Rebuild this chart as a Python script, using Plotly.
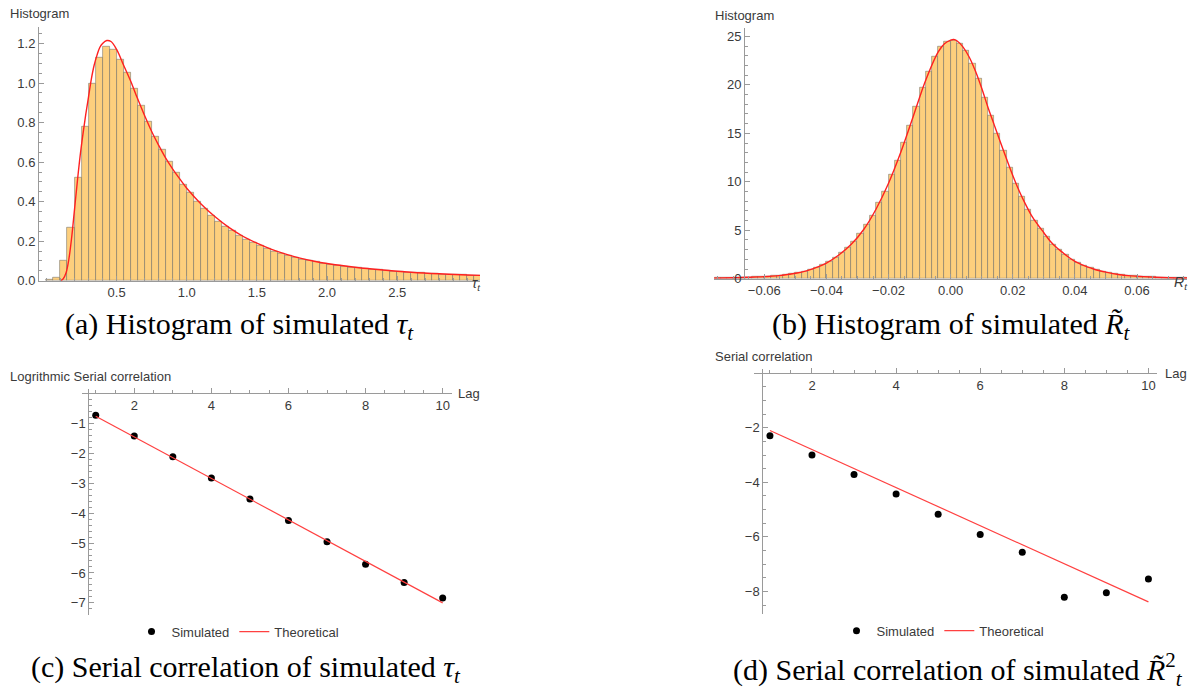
import plotly.graph_objects as go

# ---------------- data ----------------
# (a) histogram of simulated tau_t  (bin width 0.05, left edges)
tau_bin_w = 0.05
tau_edges = [round(0.05 * i, 2) for i in range(62)]
tau_heights = [0.003, 0.013, 0.10, 0.27, 0.52, 0.78, 0.997, 1.13, 1.185, 1.17,
               1.12, 1.053, 0.972, 0.887, 0.804, 0.731, 0.665, 0.60, 0.546, 0.488,
               0.445, 0.40, 0.362, 0.329, 0.301, 0.275, 0.252, 0.23, 0.21, 0.194,
               0.177, 0.164, 0.149, 0.139, 0.128, 0.118, 0.109, 0.103, 0.094, 0.088,
               0.082, 0.077, 0.072, 0.068, 0.064, 0.060, 0.057, 0.054, 0.051, 0.048,
               0.045, 0.043, 0.041, 0.039, 0.037, 0.035, 0.033, 0.032, 0.030, 0.029,
               0.028, 0.027]
tau_curve_x = [0.10, 0.12, 0.14, 0.16, 0.18, 0.20, 0.22, 0.24, 0.26, 0.28, 0.30, 0.32,
               0.34, 0.36, 0.38, 0.40, 0.43, 0.46, 0.50, 0.55, 0.60, 0.65, 0.70, 0.75,
               0.80, 0.85, 0.90, 0.95, 1.00, 1.10, 1.20, 1.30, 1.40, 1.50, 1.60, 1.70,
               1.80, 1.90, 2.00, 2.20, 2.40, 2.60, 2.80, 3.00, 3.09]
tau_curve_y = [0.0, 0.01, 0.04, 0.11, 0.22, 0.36, 0.50, 0.63, 0.74, 0.84, 0.93, 1.02,
               1.09, 1.14, 1.18, 1.20, 1.215, 1.21, 1.17, 1.09, 1.01, 0.92, 0.835, 0.755,
               0.685, 0.62, 0.565, 0.515, 0.468, 0.39, 0.325, 0.27, 0.225, 0.19, 0.16, 0.136,
               0.116, 0.10, 0.087, 0.068, 0.054, 0.043, 0.035, 0.029, 0.027]
tau_ticks = [0.5, 1.0, 1.5, 2.0, 2.5]
tau_yticks = [0.0, 0.2, 0.4, 0.6, 0.8, 1.0, 1.2]

# (b) histogram of simulated R_t (bin width 0.002, left edges)
r_bin_w = 0.002
r_edges = [round(-0.076 + 0.002 * i, 3) for i in range(76)]
r_heights = [0.07, 0.08, 0.09, 0.10, 0.12, 0.14, 0.17, 0.20, 0.24, 0.27,
             0.34, 0.41, 0.51, 0.61, 0.75, 0.95, 1.19, 1.47, 1.77, 2.22,
             2.69, 3.24, 3.85, 4.6, 5.56, 6.54, 7.8, 9.03, 10.7, 12.2,
             14.04, 15.8, 17.8, 19.67, 21.4, 22.9, 23.96, 24.47,
             24.6, 24.3, 23.5, 22.15, 20.6, 18.64, 16.8, 15.0, 13.2, 11.5,
             9.85, 8.42, 7.12, 6.03, 5.2, 4.33, 3.51, 3.0, 2.49, 1.98,
             1.64, 1.36, 1.13, 0.92, 0.75, 0.61, 0.48, 0.41, 0.34, 0.27,
             0.24, 0.20, 0.17, 0.14, 0.12, 0.10, 0.09, 0.08]
r_curve_x = [-0.0763, -0.070, -0.066, -0.062, -0.060, -0.056, -0.052, -0.048, -0.044,
             -0.040, -0.036, -0.032, -0.028, -0.024, -0.020, -0.016, -0.012, -0.008,
             -0.004, -0.002, 0.000, 0.001, 0.002, 0.004, 0.006, 0.008, 0.010, 0.012,
             0.014, 0.016, 0.018, 0.020, 0.022, 0.024, 0.026, 0.028, 0.030, 0.032,
             0.034, 0.036, 0.038, 0.040, 0.042, 0.044, 0.046, 0.048, 0.050, 0.054,
             0.058, 0.062, 0.066, 0.070, 0.0761]
r_curve_y = [0.07, 0.11, 0.15, 0.19, 0.22, 0.30, 0.46, 0.68, 1.07,
             1.62, 2.45, 3.55, 5.08, 7.2, 9.85, 13.1, 16.8, 20.5,
             23.4, 24.25, 24.62, 24.68, 24.55, 23.9, 22.85, 21.4, 19.65, 17.7,
             15.9, 14.1, 12.35, 10.65, 9.1, 7.75, 6.55, 5.6, 4.75, 3.9,
             3.25, 2.72, 2.22, 1.8, 1.49, 1.23, 1.01, 0.83, 0.68, 0.44,
             0.30, 0.22, 0.155, 0.11, 0.08]
r_ticks = [-0.06, -0.04, -0.02, 0.0, 0.02, 0.04, 0.06]
r_yticks = [0, 5, 10, 15, 20, 25]

# (c) logarithmic serial correlation of tau_t
lags = [1, 2, 3, 4, 5, 6, 7, 8, 9, 10]
lag_ticks = [2, 4, 6, 8, 10]
c_sim = [-0.73, -1.42, -2.12, -2.83, -3.53, -4.25, -4.96, -5.71, -6.32, -6.84]
c_theo_x = [1, 10]
c_theo_y = [-0.76, -7.0]
c_yticks = [-1, -2, -3, -4, -5, -6, -7]

# (d) serial correlation of R_t^2
d_sim = [-2.29, -3.00, -3.71, -4.43, -5.17, -5.91, -6.56, -8.21, -8.05, -7.54]
d_theo_x = [1, 10]
d_theo_y = [-2.10, -8.38]
d_yticks = [-2, -4, -6, -8]

# ---------------- layout helpers ----------------
W, H = 1193, 697
def PX(x):
    return x / W
def PY(y):
    return 1 - y / H

BAR_FILL = "#fdcf7d"
BAR_EDGE = "rgba(95,95,95,0.6)"
AXC = "#9a9a9a"
TXT = "#3a3a3a"
SANS = "Liberation Sans, Arial, sans-serif"
SERIF = "Liberation Serif, Times New Roman, serif"

fig = go.Figure()

# (a)
fig.add_trace(go.Bar(x=tau_edges, y=tau_heights, width=tau_bin_w, offset=0,
                     marker=dict(color=BAR_FILL, line=dict(color=BAR_EDGE, width=0.8)),
                     showlegend=False, xaxis="x", yaxis="y"))
fig.add_trace(go.Scatter(x=tau_curve_x, y=tau_curve_y, mode="lines", line_shape="spline",
                         line=dict(color="#ff2020", width=1.4), showlegend=False,
                         xaxis="x", yaxis="y", cliponaxis=False))
# (b)
fig.add_trace(go.Bar(x=r_edges, y=r_heights, width=r_bin_w, offset=0,
                     marker=dict(color=BAR_FILL, line=dict(color=BAR_EDGE, width=0.8)),
                     showlegend=False, xaxis="x2", yaxis="y2"))
fig.add_trace(go.Scatter(x=r_curve_x, y=r_curve_y, mode="lines", line_shape="spline",
                         line=dict(color="#ff2020", width=1.4), showlegend=False,
                         xaxis="x2", yaxis="y2", cliponaxis=False))
# (c)
fig.add_trace(go.Scatter(x=lags, y=c_sim, mode="markers", name="Simulated",
                         marker=dict(color="black", size=7), xaxis="x3", yaxis="y3",
                         legend="legend"))
fig.add_trace(go.Scatter(x=c_theo_x, y=c_theo_y, mode="lines", name="Theoretical",
                         line=dict(color="#ff4040", width=1.2), xaxis="x3", yaxis="y3",
                         legend="legend"))
# (d)
fig.add_trace(go.Scatter(x=lags, y=d_sim, mode="markers", name="Simulated",
                         marker=dict(color="black", size=7), xaxis="x4", yaxis="y4",
                         legend="legend2"))
fig.add_trace(go.Scatter(x=d_theo_x, y=d_theo_y, mode="lines", name="Theoretical",
                         line=dict(color="#ff4040", width=1.2), xaxis="x4", yaxis="y4",
                         legend="legend2"))

def ax(**kw):
    base = dict(showgrid=False, zeroline=False, showline=True, linecolor=AXC, linewidth=1,
                ticks="inside", ticklen=5, tickcolor=AXC, tickwidth=1,
                tickfont=dict(family=SANS, size=13, color=TXT), fixedrange=True)
    base.update(kw)
    return base

def minor(d):
    return dict(dtick=d, tick0=0, ticks="inside", ticklen=3, tickcolor=AXC)

fig.update_layout(
    width=W, height=H, margin=dict(l=0, r=0, t=0, b=0),
    paper_bgcolor="white", plot_bgcolor="rgba(0,0,0,0)",
    bargap=0,
    # (a)
    xaxis=ax(domain=[PX(39), PX(480)], range=[-0.053, 3.09], anchor="y",
             tickmode="array", tickvals=tau_ticks, tickformat=".1f",
             minor=minor(0.1)),
    yaxis=ax(domain=[PY(284), PY(27)], range=[0, 1.285], anchor="x",
             tickmode="array", tickvals=tau_yticks, tickformat=".1f",
             minor=minor(0.05)),
    # (b)
    xaxis2=ax(domain=[PX(714), PX(1187)], range=[-0.0762, 0.0761], anchor="y2",
              tickmode="array", tickvals=r_ticks, tickformat=".2f",
              minor=minor(0.005)),
    yaxis2=ax(domain=[PY(282), PY(28)], range=[0, 25.9], anchor="free",
              position=PX(744), tickmode="array", tickvals=r_yticks, minor=minor(1)),
    # (c)
    xaxis3=ax(domain=[PX(81.7), PX(451.7)], range=[0.636, 10.234], anchor="free",
              position=PY(398), side="bottom",
              tickmode="array", tickvals=lag_ticks, minor=minor(0.5)),
    yaxis3=ax(domain=[PY(621.7), PY(393.3)], range=[-7.39, 0.155], anchor="free",
              position=PX(88.3), tickmode="array", tickvals=c_yticks,
              minor=minor(0.2)),
    # (d)
    xaxis4=ax(domain=[PX(754), PX(1156.7)], range=[0.621, 10.197], anchor="free",
              position=PY(377.5), side="bottom",
              tickmode="array", tickvals=lag_ticks, minor=minor(0.5)),
    yaxis4=ax(domain=[PY(620.7), PY(373.3)], range=[-8.81, 0.152], anchor="free",
              position=PX(762.3), tickmode="array", tickvals=d_yticks,
              minor=minor(0.5)),
    legend=dict(x=PX(238), y=PY(639), xanchor="center", yanchor="middle",
                orientation="h", font=dict(family=SANS, size=13, color=TXT),
                bgcolor="rgba(0,0,0,0)", itemwidth=30),
    legend2=dict(x=PX(943), y=PY(638), xanchor="center", yanchor="middle",
                 orientation="h", font=dict(family=SANS, size=13, color=TXT),
                 bgcolor="rgba(0,0,0,0)", itemwidth=30),
)

def label(text, x, y, xanchor="left", size=13, family=SANS, color=TXT):
    fig.add_annotation(text=text, x=PX(x), y=PY(y), xref="paper", yref="paper",
                       xanchor=xanchor, yanchor="middle", showarrow=False,
                       font=dict(family=family, size=size, color=color))

label("Histogram", 8, 14)
label("<i>τ<sub>t</sub></i>", 476, 287, xanchor="center", size=14)
label("Histogram", 713, 16)
label("<i>R<sub>t</sub></i>", 1181, 286, xanchor="center", size=14)
label("Logrithmic Serial correlation", 8, 381)
label("Lag", 456, 398)
label("Serial correlation", 713, 361)
label("Lag", 1163, 378)

CAP = 30
label("(a) Histogram of simulated <i>τ<sub>t</sub></i>", 240, 330, xanchor="center",
      size=CAP, family=SERIF, color="black")
label("(b) Histogram of simulated <i>R̃<sub>t</sub></i>", 951, 330, xanchor="center",
      size=CAP, family=SERIF, color="black")
label("(c) Serial correlation of simulated <i>τ<sub>t</sub></i>", 246, 677, xanchor="center",
      size=CAP, family=SERIF, color="black")
label("(d) Serial correlation of simulated <i>R̃</i><sup>2</sup><sub><i>t</i></sub>", 958, 677,
      xanchor="center", size=CAP, family=SERIF, color="black")

fig.write_html("out.html", config={"displayModeBar": False},
               post_script="document.body.style.margin='0';document.body.style.overflow='hidden';")
